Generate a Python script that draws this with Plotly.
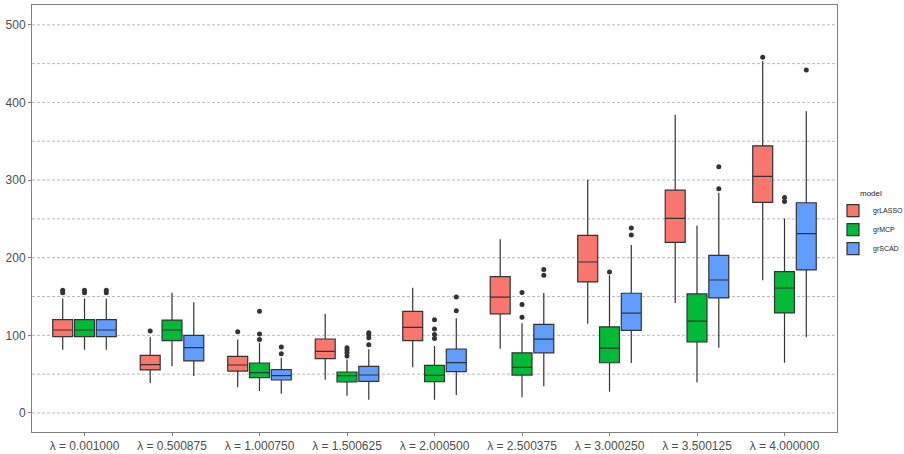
import plotly.graph_objects as go

lambdas = ["λ = 0.001000", "λ = 0.500875", "λ = 1.000750", "λ = 1.500625", "λ = 2.000500",
           "λ = 2.500375", "λ = 3.000250", "λ = 3.500125", "λ = 4.000000"]
models = ["grLASSO", "grMCP", "grSCAD"]
colors = ["#F8766D", "#00BA38", "#619CFF"]

# per model: lists over lambdas
lowerfence = {
    "grLASSO": [81.5, 38.6, 33.0, 42.9, 58.8, 82.7, 114.8, 141.8, 170.9],
    "grMCP":   [81.5, 60.1, 28.3, 22.3, 17.2, 20.1, 27.4, 39.7, 64.6],
    "grSCAD":  [81.5, 47.6, 24.9, 17.2, 23.2, 34.3, 64.3, 83.9, 97.6],
}
q1 = {
    "grLASSO": [98.3, 55.4, 54.0, 70.0, 93.1, 127.7, 168.8, 219.8, 271.2],
    "grMCP":   [98.3, 93.1, 45.5, 39.9, 40.3, 48.8, 64.7, 91.6, 128.9],
    "grSCAD":  [98.3, 67.0, 42.5, 40.8, 53.2, 77.5, 106.3, 148.2, 184.2],
}
median = {
    "grLASSO": [106.9, 62.2, 61.8, 79.4, 110.3, 149.1, 194.5, 250.6, 304.7],
    "grMCP":   [106.9, 106.9, 51.9, 48.1, 48.5, 58.7, 83.5, 118.2, 161.0],
    "grSCAD":  [106.9, 84.1, 48.1, 48.9, 64.8, 95.1, 128.5, 171.3, 230.9],
}
q3 = {
    "grLASSO": [120.2, 74.2, 73.0, 95.3, 130.9, 175.7, 228.8, 287.0, 344.1],
    "grMCP":   [120.2, 119.7, 64.4, 52.8, 61.4, 77.5, 111.0, 153.3, 182.0],
    "grSCAD":  [120.2, 100.0, 55.8, 60.0, 82.4, 114.0, 154.2, 203.0, 270.8],
}
upperfence = {
    "grLASSO": [147.6, 97.9, 94.8, 127.5, 161.4, 223.7, 300.3, 384.0, 453.4],
    "grMCP":   [147.6, 155.0, 90.6, 69.0, 86.3, 115.7, 177.4, 241.2, 250.6],
    "grSCAD":  [147.6, 142.5, 71.2, 82.0, 121.9, 154.7, 216.4, 283.7, 388.7],
}
# outliers: list of (lambda index, value)
outliers = {
    "grLASSO": [(0, 155.0), (0, 158.0), (1, 105.6), (2, 104.7), (8, 458.1)],
    "grMCP":   [(0, 155.0), (0, 158.0), (2, 94.8), (2, 101.7), (2, 130.9),
                (3, 73.4), (3, 77.7), (3, 81.1), (3, 84.1),
                (4, 96.0), (4, 101.0), (4, 108.2), (4, 120.2),
                (5, 123.4), (5, 139.7), (5, 155.1), (6, 181.7),
                (8, 272.5), (8, 277.7)],
    "grSCAD":  [(0, 155.0), (0, 158.0), (2, 76.4), (2, 85.0),
                (3, 88.0), (3, 97.0), (3, 100.9), (3, 103.4),
                (4, 131.8), (4, 149.4), (5, 177.4), (5, 184.7),
                (6, 229.2), (6, 238.2), (7, 288.8), (7, 317.1), (8, 441.9)],
}

dodge = 0.249
box_w = 0.228

fig = go.Figure()
for k, (m, c) in enumerate(zip(models, colors)):
    off = (k - 1) * dodge
    xs = [i + off for i in range(len(lambdas))]
    fig.add_trace(go.Box(
        name=m, x=xs, q1=q1[m], median=median[m], q3=q3[m],
        lowerfence=lowerfence[m], upperfence=upperfence[m],
        width=box_w, fillcolor=c, boxpoints=False, whiskerwidth=0,
        line=dict(color="#333333", width=1.2), legendgroup=m, showlegend=True,
    ))
    fig.add_trace(go.Scatter(
        x=[i + off for i, _ in outliers[m]], y=[v for _, v in outliers[m]],
        mode="markers", marker=dict(color="#333333", size=5),
        legendgroup=m, showlegend=False, hoverinfo="skip",
    ))

grid_vals = list(range(0, 501, 50))
for g in grid_vals:
    fig.add_hline(y=g, line=dict(color="#A8A8A8", width=0.8, dash="3px,2px"), layer="below")

fig.update_layout(
    width=904, height=454,
    margin=dict(l=32, r=67, t=5, b=22, autoexpand=False),
    paper_bgcolor="white", plot_bgcolor="white",
    font=dict(family="Liberation Sans, Arial, sans-serif", color="#4D4D4D"),
    showlegend=True,
    legend=dict(title=dict(text="model", side="top center", font=dict(size=8, color="#222")),
                font=dict(size=7, color="#222"), xref="container", x=833 / 904, xanchor="left",
                yref="container", y=0.505, yanchor="middle", bgcolor="rgba(0,0,0,0)",
                itemwidth=30, tracegroupgap=0),
)
fig.update_xaxes(range=[-0.6, 8.6], tickvals=list(range(len(lambdas))), ticktext=lambdas,
                 showgrid=False, zeroline=False, showline=True, linecolor="#7F7F7F",
                 mirror=True, linewidth=1, ticks="outside", ticklen=3, tickcolor="#7F7F7F",
                 tickfont=dict(size=12, color="#4D4D4D"), automargin=False)
fig.update_yaxes(range=[-24.5, 525.5], tickvals=list(range(0, 501, 100)),
                 showgrid=False, zeroline=False, showline=True, linecolor="#7F7F7F",
                 mirror=True, linewidth=1, ticks="outside", ticklen=3, tickcolor="#7F7F7F",
                 tickfont=dict(size=12, color="#4D4D4D"), automargin=False)

fig.write_html("out.html", config={"displayModeBar": False},
               post_script="document.body.style.margin='0';")
